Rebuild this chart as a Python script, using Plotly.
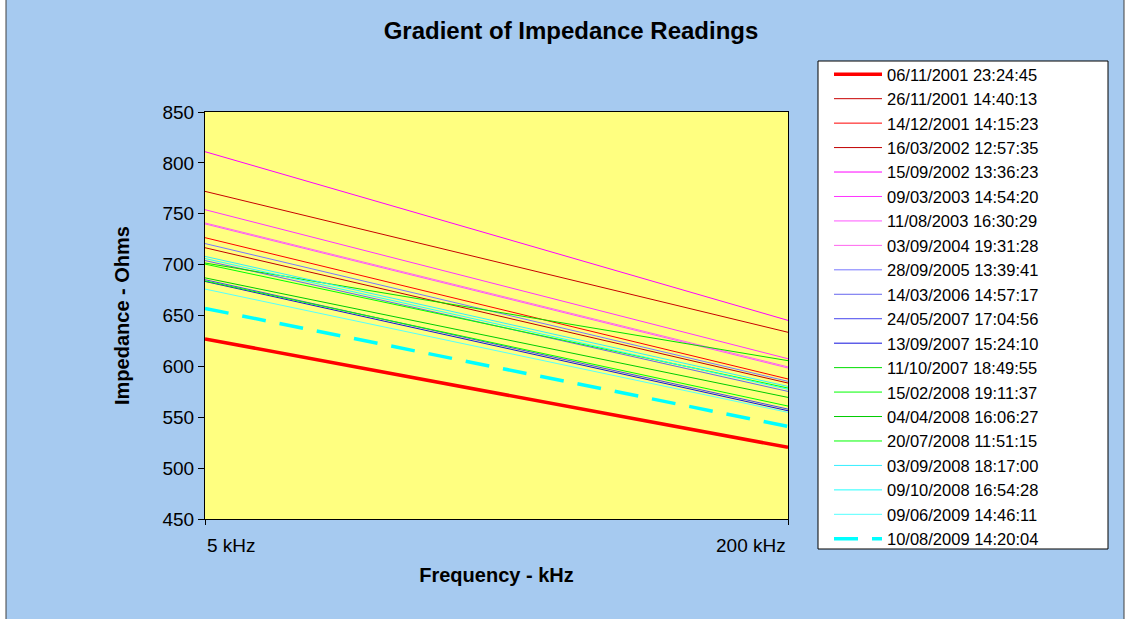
import plotly.graph_objects as go

# ---------------- data ----------------
freq_labels = ["5 kHz", "200 kHz"]

reading_labels = [
    "06/11/2001 23:24:45", "26/11/2001 14:40:13", "14/12/2001 14:15:23",
    "16/03/2002 12:57:35", "15/09/2002 13:36:23", "09/03/2003 14:54:20",
    "11/08/2003 16:30:29", "03/09/2004 19:31:28", "28/09/2005 13:39:41",
    "14/03/2006 14:57:17", "24/05/2007 17:04:56", "13/09/2007 15:24:10",
    "11/10/2007 18:49:55", "15/02/2008 19:11:37", "04/04/2008 16:06:27",
    "20/07/2008 11:51:15", "03/09/2008 18:17:00", "09/10/2008 16:54:28",
    "09/06/2009 14:46:11", "10/08/2009 14:20:04",
]

imp_5khz = [627, 772, 726.5, 716.6, 811, 754, 740, 741, 720.7, 704,
            685.2, 683.5, 701.6, 700.5, 687, 684, 708.1, 706, 676, 657]
imp_200khz = [520.4, 633.5, 587.6, 583.6, 645.2, 607.5, 598.4, 599.5, 585.3, 575.4,
              558, 556.4, 605.6, 578.7, 569.5, 561, 580.3, 577.5, 554.8, 541]

y_ticks = [450, 500, 550, 600, 650, 700, 750, 800, 850]

# ---------------- styles ----------------
colors = ["#FF0000", "#C80000", "#FF0000", "#C00000",
          "#FF00FF", "#FF33FF", "#FF55FF", "#FF66EE",
          "#7777FF", "#6666EE", "#4444EE", "#1111DD",
          "#00DD00", "#00FF00", "#00CC00", "#00FF00",
          "#33EEFF", "#22FFFF", "#55FFFF", "#00FFFF"]
widths = [3.5] + [1] * 18 + [3.5]
dashes = ["solid"] * 19 + ["24px,14px"]

FONT = "Arial, Liberation Sans, sans-serif"

# pixel geometry helpers (plot area 205..788 x 112..519)
L, R, T, B = 205, 788, 112, 519
W, H = 1131, 619
def px(x):
    return (x - L) / (R - L)
def py(y):
    return (B - y) / (B - T)

fig = go.Figure()
for i, lab in enumerate(reading_labels):
    fig.add_trace(go.Scatter(
        x=freq_labels, y=[imp_5khz[i], imp_200khz[i]],
        mode="lines", name=lab,
        line=dict(color=colors[i], width=widths[i], dash=dashes[i]),
    ))

shapes = [
    dict(type="rect", xref="paper", yref="paper", layer="below",
         x0=px(6), x1=px(1124), y0=py(630), y1=py(-5),
         fillcolor="#A6CAF0", line=dict(color="#404040", width=1)),
    dict(type="rect", xref="paper", yref="paper", layer="below",
         x0=0, x1=1, y0=0, y1=1, fillcolor="#FFFF80", line=dict(width=0)),
    dict(type="rect", xref="paper", yref="paper", layer="below",
         x0=px(818), x1=px(1108), y0=py(549), y1=py(61),
         fillcolor="white", line=dict(color="black", width=1)),
]

annotations = [
    dict(x=0, y=py(545), xref="x", yref="paper", text=freq_labels[0],
         xanchor="left", yanchor="middle", showarrow=False,
         font=dict(family=FONT, size=19, color="black")),
    dict(x=1, y=py(545), xref="x", yref="paper", text=freq_labels[1],
         xanchor="right", yanchor="middle", showarrow=False,
         font=dict(family=FONT, size=19, color="black")),
]

fig.update_layout(
    width=W, height=H,
    margin=dict(l=L, r=W - R, t=T, b=H - B, pad=0),
    paper_bgcolor="white",
    plot_bgcolor="rgba(0,0,0,0)",
    font=dict(family=FONT, color="black"),
    title=dict(text="Gradient of Impedance Readings", x=571 / W, xanchor="center",
               y=1 - 31 / H, yanchor="middle",
               font=dict(family=FONT, size=24, color="black", weight="bold")),
    xaxis=dict(type="category", categoryorder="array", categoryarray=freq_labels,
               range=[0, 1], showticklabels=False, showgrid=False, zeroline=False,
               showline=True, linecolor="black", linewidth=1, mirror=True,
               ticks="outside", ticklen=5, tickcolor="black",
               title=dict(text="Frequency - kHz", standoff=43,
                          font=dict(family=FONT, size=20, weight="bold")),
               automargin=False),
    yaxis=dict(range=[450, 850], tickvals=y_ticks, showgrid=False, zeroline=False,
               showline=True, linecolor="black", linewidth=1, mirror=True,
               ticks="outside", ticklen=6, tickcolor="black",
               tickfont=dict(family=FONT, size=19),
               title=dict(text="Impedance - Ohms", standoff=27,
                          font=dict(family=FONT, size=20, weight="bold")),
               automargin=False),
    legend=dict(x=px(829), y=py(57), xanchor="left", yanchor="top",
                bgcolor="rgba(0,0,0,0)", borderwidth=0,
                font=dict(family=FONT, size=16.5, color="black"),
                itemwidth=48, tracegroupgap=0, maxheight=600),
    shapes=shapes,
    annotations=annotations,
    showlegend=True,
)

fig.write_html("out.html", config={"displayModeBar": False},
               post_script="document.body.style.margin='0';document.body.style.overflow='hidden';")
